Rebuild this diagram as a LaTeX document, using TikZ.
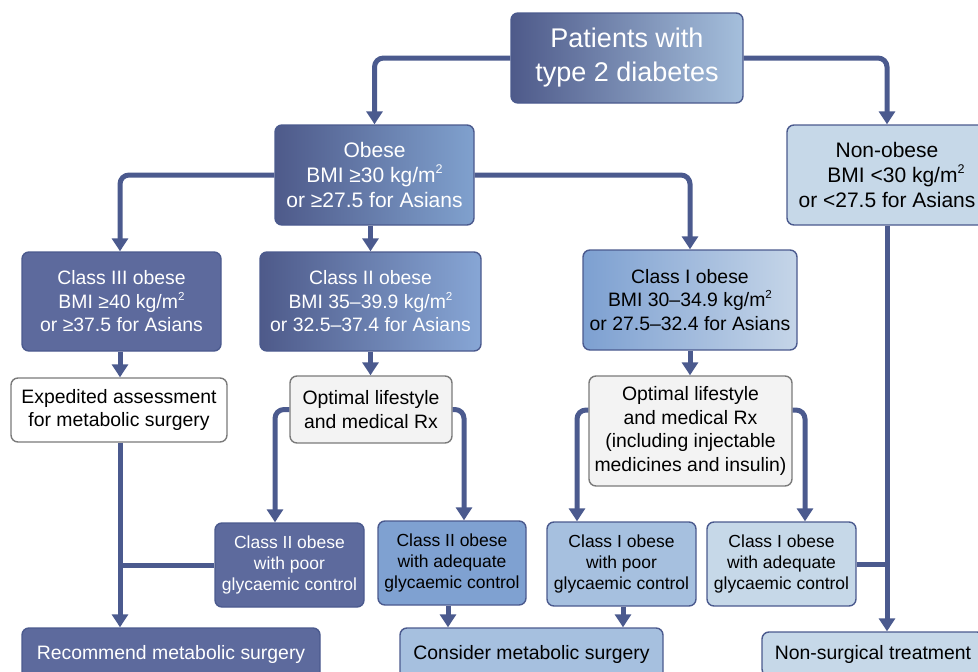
\documentclass[tikz,border=0pt]{standalone}
\usepackage{fontspec}
\setmainfont{Liberation Sans}
\usetikzlibrary{arrows.meta,calc}
\newcommand{\msq}{\raisebox{0.42em}{\scalebox{0.6}{2}}}
\definecolor{lineblue}{HTML}{4B5A8E}
\definecolor{darkblue}{HTML}{4E5A8A}
\definecolor{purpleblue}{HTML}{5D6A9D}
\definecolor{midblue}{HTML}{7FA1D1}
\definecolor{lightblue}{HTML}{A6C0DF}
\definecolor{paleblue}{HTML}{C6D8E8}
\definecolor{topright}{HTML}{A5BFDC}
\definecolor{obeseright}{HTML}{80A1CE}
\definecolor{ctworight}{HTML}{87A6D5}
\definecolor{coneleft}{HTML}{7DA0D1}
\definecolor{coneright}{HTML}{C5D5E8}
\definecolor{greyborder}{HTML}{7A7A7A}
\definecolor{greyfill}{HTML}{F3F3F3}
\tikzset{
  box/.style={rectangle, rounded corners=7pt, line width=1.4pt, draw=lineblue,
    align=center, inner sep=2pt},
  greybox/.style={box, draw=greyborder},
  fbig/.style={font=\fontsize{27}{34}\selectfont},
  fobese/.style={font=\fontsize{21}{25}\selectfont},
  fmid/.style={font=\fontsize{19.4}{23.5}\selectfont},
  fsmall/.style={font=\fontsize{17.5}{21}\selectfont},
  conn/.style={draw=lineblue, line width=5pt, rounded corners=9pt,
    -{Triangle[width=16pt,length=13pt]}},
  joinline/.style={draw=lineblue, line width=5pt}
}
\begin{document}
\begin{tikzpicture}[x=1pt,y=-1pt]
\useasboundingbox (0,0) rectangle (978,672);
\clip (0,0) rectangle (978,672);

% top
\node[box, fbig, text=white, left color=darkblue, right color=topright,
  minimum width=232pt, minimum height=90pt] (top) at (627,58)
  {Patients with\\type 2 diabetes};

% second row
\node[box, fobese, text=white, left color=darkblue, right color=obeseright,
  minimum width=199pt, minimum height=100pt] (obese) at (374.5,175)
  {Obese\\BMI ≥30 kg/m\msq\\or ≥27.5 for Asians};
\node[box, fobese, text=black, fill=paleblue,
  minimum width=200pt, minimum height=100pt] (nonobese) at (887,175)
  {Non-obese\\\hspace*{18pt}BMI <30 kg/m\msq\\or <27.5 for Asians};

% class row
\node[box, fmid, text=white, fill=purpleblue,
  minimum width=199pt, minimum height=99pt] (cthree) at (121.5,301.5)
  {Class III obese\\BMI ≥40 kg/m\msq\\or ≥37.5 for Asians};
\node[box, fmid, text=white, left color=darkblue, right color=ctworight,
  minimum width=221pt, minimum height=99pt] (ctwo) at (370.5,301.5)
  {Class II obese\\BMI 35–39.9 kg/m\msq\\or 32.5–37.4 for Asians};
\node[box, fmid, text=black, left color=coneleft, right color=coneright,
  minimum width=214pt, minimum height=100pt] (cone) at (690,300)
  {Class I obese\\BMI 30–34.9 kg/m\msq\\or 27.5–32.4 for Asians};

% treatment row
\node[greybox, fmid, text=black, fill=white,
  minimum width=216pt, minimum height=64pt] (exped) at (119,410)
  {Expedited assessment\\for metabolic surgery};
\node[greybox, fmid, text=black, fill=greyfill,
  minimum width=162pt, minimum height=67pt] (opttwo) at (371,409.5)
  {Optimal lifestyle\\and medical Rx};
\node[greybox, fmid, text=black, fill=greyfill,
  minimum width=203pt, minimum height=110pt] (optone) at (690.5,431)
  {Optimal lifestyle\\and medical Rx\\(including injectable\\medicines and insulin)};

% control row
\node[box, fsmall, text=white, fill=purpleblue,
  minimum width=149pt, minimum height=84pt] (ctwopoor) at (289.5,565)
  {Class II obese\\with poor\\glycaemic control};
\node[box, fsmall, text=black, fill=midblue,
  minimum width=148pt, minimum height=84pt] (ctwoadeq) at (452,563)
  {Class II obese\\with adequate\\glycaemic control};
\node[box, fsmall, text=black, fill=lightblue,
  minimum width=149pt, minimum height=84pt] (conepoor) at (621.5,564)
  {Class I obese\\with poor\\glycaemic control};
\node[box, fsmall, text=black, fill=paleblue,
  minimum width=149pt, minimum height=84pt] (coneadeq) at (781.5,564)
  {Class I obese\\with adequate\\glycaemic control};

% outcomes
\node[box, fmid, text=white, fill=purpleblue,
  minimum width=298pt, minimum height=52pt] (recommend) at (171,654)
  {Recommend metabolic surgery};
\node[box, fmid, text=black, fill=lightblue,
  minimum width=263pt, minimum height=52pt] (consider) at (531.5,654)
  {Consider metabolic surgery};
\node[box, fmid, text=black, fill=paleblue,
  minimum width=222pt, minimum height=44pt] (nonsurg) at (873,654)
  {Non-surgical treatment};

% connectors
\draw[conn] (top.west) -| (obese.north);
\draw[conn] (top.east) -| (nonobese.north);
\draw[conn] (obese.west) -| ([xshift=-1.5pt]cthree.north);
\draw[conn] (obese.east) -| (cone.north);
\draw[conn] (ctwo.north |- obese.south) -- (ctwo.north);
\draw[conn] ([xshift=-1.5pt]cthree.south) -- ([xshift=-1.5pt]cthree.south |- exped.north);
\draw[conn] (ctwo.south) -- (ctwo.south |- opttwo.north);
\draw[conn] (cone.south) -- (cone.south |- optone.north);
\draw[conn] (opttwo.west) -| ([xshift=-14.5pt]ctwopoor.north);
\draw[conn] (opttwo.east) -| ([xshift=12pt]ctwoadeq.north);
\draw[conn] ([yshift=21pt]optone.west) -| ([xshift=-44.5pt]conepoor.north);
\draw[conn] ([yshift=21pt]optone.east) -| ([xshift=23.5pt]coneadeq.north);
\draw[conn] ([xshift=1pt]exped.south) -- ([xshift=1pt]exped.south |- recommend.north);
\draw[joinline] (ctwopoor.west) -- ([xshift=1pt]exped.south |- ctwopoor.west);
\draw[conn] ([xshift=-4pt]ctwoadeq.south) -- ([xshift=-4pt]ctwoadeq.south |- consider.north);
\draw[conn] ([xshift=1.5pt]conepoor.south) -- ([xshift=1.5pt]conepoor.south |- consider.north);
\draw[conn] (nonobese.south) -- (nonobese.south |- nonsurg.north);
\draw[joinline] (coneadeq.east) -- (nonobese.south |- coneadeq.east);
\end{tikzpicture}
\end{document}
